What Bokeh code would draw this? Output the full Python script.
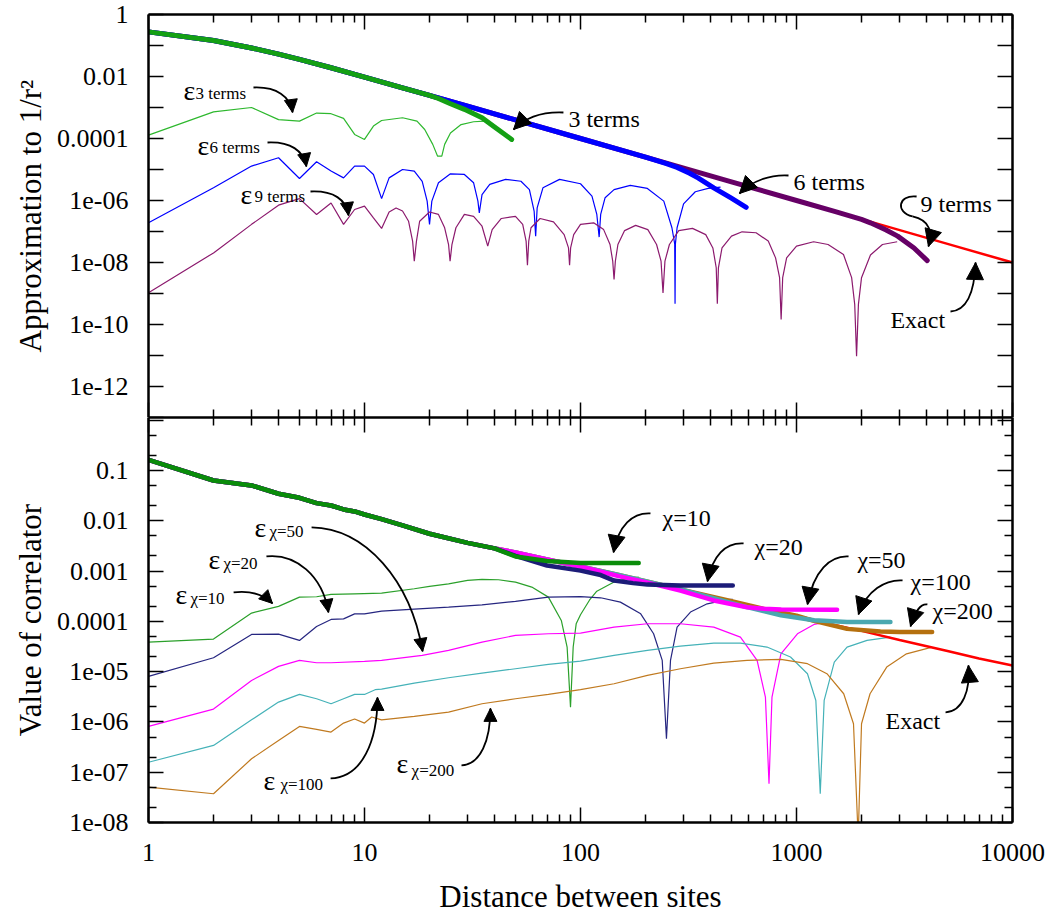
from bokeh.plotting import figure
from bokeh.models import LogAxis, FixedTicker, Range1d, Arrow, NormalHead
from bokeh.layouts import column
from bokeh.embed import file_html
from bokeh.resources import INLINE
from bokeh.core.properties import value

FONT = "Liberation Serif"

# ------------------------------------------------------------------
# DATA
# ------------------------------------------------------------------
# ---- top panel: approximations to 1/r^2 ----
top_exact_r = [1, 2, 3, 4, 5, 7, 10, 15, 20, 30, 50, 100, 200, 500, 1000, 2000, 5000, 10000]
top_exact_v = [0.275, 0.1445, 0.0832, 0.0525, 0.0355, 0.0191, 0.00955, 0.00427, 0.00245, 0.0011,
               3.98e-4, 1.0e-4, 2.51e-5, 3.98e-6, 1.0e-6, 2.5e-7, 3.98e-8, 1.0e-8]

terms3_r = [1, 2, 3, 4, 5, 7, 10, 15, 20, 22, 25, 29, 35, 40, 44, 48]
terms3_v = [0.275, 0.1445, 0.0832, 0.0525, 0.0355, 0.0191, 0.00955, 0.00427, 0.00245,
            1.95e-3, 1.32e-3, 8.71e-4, 4.68e-4, 2.34e-4, 1.45e-4, 9.33e-5]

terms6_r = [1, 2, 3, 4, 5, 7, 10, 15, 20, 30, 50, 100, 150, 200, 250, 280, 320, 350, 414, 495, 585]
terms6_v = [0.275, 0.1445, 0.0832, 0.0525, 0.0355, 0.0191, 0.00955, 0.00427, 0.00245, 0.0011,
            3.98e-4, 1.0e-4, 4.47e-5, 2.51e-5, 1.55e-5, 1.17e-5, 7.59e-6, 5.37e-6, 2.57e-6,
            1.23e-6, 6.03e-7]

terms9_r = [1, 2, 3, 4, 5, 7, 10, 15, 20, 30, 50, 100, 200, 500, 1000, 1500, 2000, 2200, 2600,
            2940, 3500, 4030]
terms9_v = [0.275, 0.1445, 0.0832, 0.0525, 0.0355, 0.0191, 0.00955, 0.00427, 0.00245, 0.0011,
            3.98e-4, 1.0e-4, 2.51e-5, 3.98e-6, 1.0e-6, 4.47e-7, 2.45e-7, 1.91e-7, 1.12e-7,
            7.08e-8, 2.95e-8, 1.15e-8]

eps3_r = [1, 2, 3, 4, 5, 6, 7, 8, 9, 10, 11, 12, 15, 17.5, 19, 20.7, 21.8, 22.8, 23.5, 25, 28, 32, 36]
eps3_v = [1.29e-4, 7.24e-4, 1.0e-3, 4.07e-4, 3.63e-4, 6.61e-4, 6.31e-4, 4.47e-4, 1.35e-4, 9.33e-5,
          2.51e-4, 3.80e-4, 4.68e-4, 3.63e-4, 1.95e-4, 6.46e-5, 2.69e-5, 2.69e-5, 6.46e-5,
          1.51e-4, 2.82e-4, 3.47e-4, 3.63e-4]

eps6_r = [1, 2, 3, 4, 5, 6, 7, 8, 9, 10,
          11, 12, 13, 15, 17, 18.5, 19.5, 20, 20.5, 22,
          25, 29, 32, 33.5, 34, 35, 38, 45, 53, 58,
          61, 62, 63, 67, 80, 100, 113, 119, 122, 124,
          130, 143, 170, 204, 243, 265, 273, 274, 275, 280,
          300, 340, 390, 445]
eps6_v = [1.91e-7, 2.57e-6, 1.29e-5, 2.40e-5, 5.13e-6, 1.78e-5, 8.91e-6, 5.37e-6, 1.29e-5, 1.29e-5,
          6.92e-6, 1.15e-6, 5.37e-6, 1.0e-5, 8.91e-6, 4.17e-6, 9.55e-7, 1.70e-7, 9.55e-7, 3.72e-6,
          7.24e-6, 6.92e-6, 3.72e-6, 9.55e-7, 3.98e-7, 1.55e-6, 3.31e-6, 4.79e-6, 4.17e-6, 2.24e-6,
          4.57e-7, 7.08e-8, 5.75e-7, 2.57e-6, 4.79e-6, 3.47e-6, 1.38e-6, 3.55e-7, 6.61e-8, 3.55e-7,
          1.23e-6, 2.24e-6, 3.09e-6, 2.45e-6, 9.55e-7, 1.32e-7, 3.98e-8, 4.68e-10, 3.98e-8, 1.32e-7,
          7.76e-7, 1.91e-6, 2.45e-6, 2.69e-6]

eps9_r = [1, 2, 3, 4, 5, 6, 7, 8, 9, 10,
          11, 12, 13, 14, 15, 16, 16.7, 17, 17.4, 18,
          20, 22, 23.5, 24.5, 24.9, 25.4, 26.5, 29, 32, 35,
          37.2, 39, 43, 50, 54, 56, 56.8, 57.6, 59, 65,
          75, 84, 88, 89, 90, 93, 100, 115, 128, 137,
          141, 143, 145, 149, 160, 180, 205, 225, 236, 241,
          246, 258, 285, 330, 380, 410, 425, 430, 435, 452,
          500, 560, 650, 740, 800, 835, 849, 863, 900, 1000,
          1200, 1400, 1650, 1800, 1860, 1897, 1935, 2000, 2200, 2500,
          2925]
eps9_v = [1.05e-9, 2.04e-8, 1.70e-7, 7.08e-7, 1.15e-6, 3.55e-7, 8.32e-7, 1.70e-7, 5.13e-7, 6.61e-7,
          2.75e-7, 1.26e-7, 4.27e-7, 5.75e-7, 4.57e-7, 2.14e-7, 4.90e-8, 1.10e-8, 4.90e-8, 2.14e-7,
          4.27e-7, 3.55e-7, 1.32e-7, 3.80e-8, 1.10e-8, 3.80e-8, 1.32e-7, 3.55e-7, 3.09e-7, 1.48e-7,
          3.39e-8, 1.15e-7, 2.63e-7, 3.09e-7, 1.70e-7, 4.90e-8, 8.13e-9, 4.90e-8, 1.32e-7, 2.63e-7,
          2.04e-7, 7.94e-8, 2.95e-8, 8.13e-9, 2.95e-8, 7.94e-8, 1.70e-7, 1.91e-7, 1.15e-7, 3.80e-8,
          1.10e-8, 2.82e-9, 1.10e-8, 3.80e-8, 1.07e-7, 1.58e-7, 1.15e-7, 3.80e-8, 1.10e-8, 1.05e-9,
          1.10e-8, 3.80e-8, 1.07e-7, 1.26e-7, 7.94e-8, 2.95e-8, 6.76e-9, 4.68e-10, 6.76e-9, 2.95e-8,
          7.08e-8, 9.77e-8, 9.12e-8, 4.90e-8, 1.41e-8, 3.24e-9, 1.45e-10, 3.24e-9, 1.41e-8, 3.39e-8,
          4.68e-8, 3.80e-8, 1.82e-8, 3.24e-9, 4.47e-10, 9.55e-12, 4.47e-10, 3.24e-9, 1.74e-8, 3.80e-8,
          4.68e-8]

# ---- bottom panel: correlator ----
corr_exact_r = [1, 2, 3, 4, 5, 6, 7, 8, 9, 10, 12, 15, 20, 30, 40, 50, 70, 100, 150, 200, 300,
                500, 700, 1000, 1500, 2000, 3000, 5000, 7000, 10000]
corr_exact_v = [0.163, 0.0632, 0.0504, 0.0344, 0.0286, 0.0224, 0.0201, 0.0168, 0.0153, 0.0133,
                0.0108, 0.00807, 0.00551, 0.00363, 0.00282, 0.00234, 0.0017, 0.00123, 8.32e-4,
                6.31e-4, 4.17e-4, 2.51e-4, 1.78e-4, 1.29e-4, 8.51e-5, 6.46e-5, 4.27e-5, 2.57e-5,
                1.82e-5, 1.32e-5]

corr_short_r = [1, 2, 3, 4, 5, 6, 7, 8, 9, 10, 12, 15, 20, 30, 40]
corr_short_v = [0.163, 0.0632, 0.0504, 0.0344, 0.0286, 0.0224, 0.0201, 0.0168, 0.0153, 0.0133,
                0.0108, 0.00807, 0.00551, 0.00363, 0.00282]

chi10_r = [50, 70, 100, 140, 186]
chi10_v = [1.95e-3, 1.58e-3, 1.45e-3, 1.44e-3, 1.44e-3]
chi20_r = [50, 70, 100, 124, 143, 175, 204, 290, 507]
chi20_v = [2.0e-3, 1.29e-3, 1.02e-3, 8.32e-4, 6.46e-4, 5.75e-4, 5.37e-4, 5.13e-4, 5.13e-4]
chi50_r = [50, 70, 100, 150, 200, 290, 414, 590, 706, 850, 1541]
chi50_v = [2.34e-3, 1.70e-3, 1.23e-3, 7.94e-4, 6.03e-4, 4.07e-4, 2.60e-4, 1.91e-4, 1.78e-4,
           1.72e-4, 1.70e-4]
chi100_r = [50, 70, 100, 150, 200, 300, 590, 847, 1205, 1714, 2722]
chi100_v = [2.34e-3, 1.70e-3, 1.23e-3, 8.32e-4, 6.31e-4, 4.17e-4, 1.92e-4, 1.32e-4, 1.05e-4,
            9.66e-5, 9.66e-5]
chi200_r = [50, 70, 100, 150, 200, 300, 500, 700, 1000, 1205, 1714, 2445, 3000, 4246]
chi200_v = [2.34e-3, 1.70e-3, 1.23e-3, 8.32e-4, 6.31e-4, 4.17e-4, 2.51e-4, 1.78e-4, 1.29e-4,
            1.02e-4, 7.08e-5, 6.31e-5, 6.17e-5, 6.11e-5]

eps10_r = [1, 2, 3, 4, 5, 6, 7, 9, 12, 17, 20, 24.5, 30, 35, 41.7, 50, 59.5, 71, 81.5, 86.7,
           89.9, 92.5, 95.5, 100, 110, 119, 143, 164, 186]
eps10_v = [3.86e-5, 4.44e-5, 1.46e-4, 1.98e-4, 3.03e-4, 3.08e-4, 3.43e-4, 3.53e-4, 3.64e-4,
           4.44e-4, 4.94e-4, 5.58e-4, 6.50e-4, 6.81e-4, 6.71e-4, 6.03e-4, 4.80e-4, 3.03e-4,
           1.04e-4, 3.08e-5, 1.97e-6, 3.09e-5, 8.91e-5, 1.35e-4, 2.63e-4, 3.98e-4, 6.03e-4,
           7.08e-4, 7.59e-4]

eps20_r = [1, 2, 3, 4, 5, 6, 7, 8, 9, 10, 12, 17, 24.5, 35, 50, 71, 100, 124, 153, 190, 218,
           239, 250, 261, 280, 323, 386, 477, 507]
eps20_v = [8.04e-6, 1.89e-5, 5.50e-5, 5.57e-5, 4.17e-5, 7.92e-5, 1.09e-4, 1.12e-4, 1.41e-4,
           1.41e-4, 1.60e-4, 1.75e-4, 1.92e-4, 2.13e-4, 2.49e-4, 3.03e-4, 3.09e-4, 2.94e-4,
           2.41e-4, 1.41e-4, 5.66e-5, 1.67e-5, 4.63e-7, 1.67e-5, 7.67e-5, 1.53e-4, 2.23e-4,
           2.69e-4, 2.75e-4]

eps50_r = [1, 2, 3, 4, 5, 6, 7, 10, 12, 18.5, 24.5, 35, 50, 71, 100, 143, 204, 290, 414, 550,
           657, 718, 746, 770, 847, 1010, 1205, 1541]
eps50_v = [8.15e-7, 1.80e-6, 6.68e-6, 1.27e-5, 1.67e-5, 1.50e-5, 1.50e-5, 1.60e-5, 1.67e-5,
           2.10e-5, 2.64e-5, 3.86e-5, 5.25e-5, 5.66e-5, 5.83e-5, 7.67e-5, 8.95e-5, 8.95e-5,
           7.67e-5, 4.86e-5, 1.67e-5, 3.12e-6, 5.90e-8, 3.12e-6, 2.26e-5, 5.66e-5, 8.69e-5,
           1.04e-4]

eps100_r = [1, 2, 3, 4, 5, 6, 7, 8, 9, 10, 11.2, 12, 17, 24.5, 35, 50, 71, 100, 143, 204, 290,
            414, 550, 730, 938, 1124, 1229, 1288, 1343, 1496, 1714, 2121, 2722]
eps100_v = [1.58e-7, 3.41e-7, 1.10e-6, 2.48e-6, 3.52e-6, 2.89e-6, 2.30e-6, 2.89e-6, 3.52e-6,
            3.52e-6, 4.37e-6, 4.50e-6, 5.92e-6, 7.55e-6, 9.35e-6, 1.14e-5, 1.39e-5, 1.62e-5,
            2.10e-5, 2.64e-5, 3.22e-5, 3.69e-5, 3.69e-5, 3.08e-5, 1.95e-5, 9.08e-6, 2.67e-6,
            3.73e-8, 2.67e-6, 1.55e-5, 3.08e-5, 4.17e-5, 4.86e-5]

eps200_r = [1, 2, 3, 4, 5, 6, 7, 8, 9, 10, 10.8, 12, 17, 24.5, 35, 50, 71, 100, 143, 204, 290,
            414, 590, 847, 1124, 1383, 1654, 1836, 1930, 2000, 2190, 2616, 3230, 4246]
eps200_v = [5.06e-8, 3.73e-8, 1.85e-7, 4.29e-7, 8.15e-7, 7.08e-7, 6.28e-7, 9.48e-7, 1.14e-6,
            9.48e-7, 1.25e-6, 1.10e-6, 1.29e-6, 1.57e-6, 2.30e-6, 2.89e-6, 3.52e-6, 4.37e-6,
            5.74e-6, 8.41e-6, 1.14e-5, 1.48e-5, 1.67e-5, 1.75e-5, 1.44e-5, 9.08e-6, 3.63e-6,
            9.20e-7, 5.0e-9, 9.20e-7, 3.63e-6, 1.23e-5, 2.26e-5, 3.08e-5]

# ---- tick values ----
x_ticks = [1.0, 10.0, 100.0, 1000.0, 10000.0]
top_y_exps = list(range(-13, 1))
bot_y_exps = list(range(-8, 1))

# ------------------------------------------------------------------
# STYLE / LAYOUT
# ------------------------------------------------------------------
X_MINOR = [m * d for d in (1.0, 10.0, 100.0, 1000.0) for m in range(2, 10)]
TOP_TICKS = [float("1e%d" % k) for k in top_y_exps]
TOP_LABELS = {t: ("%g" % t if k % 2 == 0 else "") for t, k in zip(TOP_TICKS, top_y_exps)}
BOT_TICKS = [float("1e%d" % k) for k in bot_y_exps]
BOT_LABELS = {t: ("%g" % t if k < 0 else "") for t, k in zip(BOT_TICKS, bot_y_exps)}
BOT_MINOR = [m * float("1e%d" % k) for k in bot_y_exps[:-1] for m in (2, 5)]
X_LABELS = {t: "%g" % t for t in x_ticks}


def setup_axis(ax, ticks, minor, labels=None, title=None, standoff=14, title_standoff=8):
    ax.ticker = FixedTicker(ticks=ticks, minor_ticks=minor)
    ax.axis_line_width = 2.5
    ax.axis_line_color = "black"
    ax.major_tick_in = 15
    ax.major_tick_out = 0
    ax.minor_tick_in = 8
    ax.minor_tick_out = 0
    ax.major_tick_line_width = 1.5
    ax.minor_tick_line_width = 1.5
    ax.major_tick_line_color = "black"
    ax.minor_tick_line_color = "black"
    if labels is None:
        ax.major_label_text_font_size = "0px"
        ax.major_label_standoff = 0
        ax.major_label_overrides = {t: "" for t in ticks}
    else:
        ax.major_label_overrides = labels
        ax.major_label_text_font = FONT
        ax.major_label_text_font_size = "26px"
        ax.major_label_text_color = "black"
        ax.major_label_standoff = standoff
    if title:
        ax.axis_label = title
        ax.axis_label_text_font = FONT
        ax.axis_label_text_font_size = "31px"
        ax.axis_label_text_font_style = "normal"
        ax.axis_label_text_color = "black"
        ax.axis_label_standoff = title_standoff


def make_fig(yr, frame_h, btop, bbot):
    p = figure(x_axis_type="log", y_axis_type="log",
               x_range=Range1d(1, 10000), y_range=Range1d(*yr),
               frame_width=864, frame_height=frame_h,
               min_border_left=148, min_border_right=38,
               min_border_top=btop, min_border_bottom=bbot,
               output_backend="svg", toolbar_location=None,
               background_fill_color="white", border_fill_color="white",
               outline_line_color=None)
    p.xgrid.visible = False
    p.ygrid.visible = False
    return p


def add_texts(p, items, size):
    for lx, ly, s in items:
        p.text(x=[10 ** lx], y=[10 ** ly], text=[s], text_font=value(FONT),
               text_font_size=size, text_baseline="alphabetic", text_align="left",
               text_color="black")


def add_arrows(p, arrows, head):
    for segs in arrows:
        for (x0, y0, cx0, cy0, cx1, cy1, x1, y1) in segs:
            p.bezier(x0=[10 ** x0], y0=[10 ** y0], x1=[10 ** x1], y1=[10 ** y1],
                     cx0=[10 ** cx0], cy0=[10 ** cy0], cx1=[10 ** cx1], cy1=[10 ** cy1],
                     line_color="black", line_width=1.8)
        last = segs[-1]
        p.add_layout(Arrow(end=NormalHead(size=head, fill_color="black", line_color="black",
                                          line_width=1),
                           x_start=10 ** last[4], y_start=10 ** last[5],
                           x_end=10 ** last[6], y_end=10 ** last[7], line_alpha=0))


# ---------------- top figure ----------------
pt = make_fig((1e-13, 1.0), 403, 14, 0)
setup_axis(pt.xaxis[0], x_ticks, X_MINOR)
setup_axis(pt.yaxis[0], TOP_TICKS, [], TOP_LABELS, "Approximation to 1/r\u00b2", 20, 6)
ax = LogAxis(); setup_axis(ax, x_ticks, X_MINOR); pt.add_layout(ax, "above")
ax = LogAxis(); setup_axis(ax, TOP_TICKS, []); pt.add_layout(ax, "right")

pt.line(eps3_r, eps3_v, line_color="#2eb82e", line_width=1.2)
pt.line(eps6_r, eps6_v, line_color="#0000ff", line_width=1.2)
pt.line(eps9_r, eps9_v, line_color="#8c1a6e", line_width=1.2)
pt.line(top_exact_r, top_exact_v, line_color="#ff0000", line_width=2.5)
pt.line(terms9_r, terms9_v, line_color="#660066", line_width=5, line_cap="round", line_join="round")
pt.line(terms6_r, terms6_v, line_color="#0000ff", line_width=5, line_cap="round", line_join="round")
pt.line(terms3_r, terms3_v, line_color="#14a014", line_width=5, line_cap="round", line_join="round")

add_texts(pt, [(0.162, -2.452, "\u03b5"), (0.227, -4.226, "\u03b5"), (0.426, -5.806, "\u03b5")], "28px")
add_texts(pt, [(0.218, -2.548, "3 terms"), (0.282, -4.29, "6 terms"), (0.491, -5.871, "9 terms")], "17px")
add_texts(pt, [(1.944, -3.387, "3 terms"), (2.986, -5.419, "6 terms"), (3.574, -6.129, "9 terms"),
               (3.435, -9.839, "Exact")], "24px")
add_arrows(pt, [
    [(0.486, -2.355, 0.593, -2.323, 0.657, -2.645, 0.667, -3.161)],
    [(0.551, -4.129, 0.657, -4.097, 0.718, -4.387, 0.731, -4.903)],
    [(0.75, -5.71, 0.856, -5.677, 0.917, -5.968, 0.926, -6.484)],
], 13)
add_arrows(pt, [
    [(1.921, -3.161, 1.815, -3.129, 1.745, -3.323, 1.69, -3.71)],
    [(2.963, -5.194, 2.88, -5.161, 2.796, -5.355, 2.736, -5.774)],
    [(3.556, -5.871, 3.468, -5.806, 3.458, -6.387, 3.537, -6.516),
     (3.537, -6.516, 3.62, -6.645, 3.63, -7.032, 3.611, -7.484)],
    [(3.713, -9.581, 3.787, -9.548, 3.824, -8.968, 3.829, -8.0)],
], 17)

# ---------------- bottom figure ----------------
pb = make_fig((1e-8, 1.13), 405, 0, 92)
setup_axis(pb.xaxis[0], x_ticks, X_MINOR, X_LABELS, "Distance between sites", 21, 15)
setup_axis(pb.yaxis[0], BOT_TICKS, BOT_MINOR, BOT_LABELS, "Value of correlator", 20, 6)
ax = LogAxis(); setup_axis(ax, x_ticks, X_MINOR); pb.add_layout(ax, "above")
ax = LogAxis(); setup_axis(ax, BOT_TICKS, BOT_MINOR); pb.add_layout(ax, "right")

pb.line(eps10_r, eps10_v, line_color="#2ba02b", line_width=1.2)
pb.line(eps20_r, eps20_v, line_color="#262680", line_width=1.2)
pb.line(eps50_r, eps50_v, line_color="#ff00ff", line_width=1.2)
pb.line(eps100_r, eps100_v, line_color="#45b2b8", line_width=1.2)
pb.line(eps200_r, eps200_v, line_color="#c07a20", line_width=1.2)
pb.line(corr_exact_r, corr_exact_v, line_color="#ff0000", line_width=2.5)
thick = dict(line_width=4.5, line_cap="round", line_join="round")
pb.line(corr_short_r + chi200_r, corr_short_v + chi200_v, line_color="#b5700e", **thick)
pb.line(corr_short_r + chi100_r, corr_short_v + chi100_v, line_color="#4aa8b0", **thick)
pb.line(corr_short_r + chi50_r, corr_short_v + chi50_v, line_color="#ff00ff", **thick)
pb.line(corr_short_r + chi20_r, corr_short_v + chi20_v, line_color="#1c1c78", **thick)
pb.line(corr_short_r + chi10_r, corr_short_v + chi10_v, line_color="#0a8c0a", **thick)

add_texts(pb, [(0.125, -3.465, "\u03b5"), (0.278, -2.769, "\u03b5"), (0.491, -2.133, "\u03b5"),
               (0.532, -7.163, "\u03b5"), (1.148, -6.825, "\u03b5")], "28px")
add_texts(pb, [(0.194, -3.545, "\u03c7=10"), (0.347, -2.849, "\u03c7=20"), (0.56, -2.213, "\u03c7=50"),
               (0.611, -7.243, "\u03c7=100"), (1.218, -6.964, "\u03c7=200")], "17px")
add_texts(pb, [(2.38, -1.954, "\u03c7=10"), (2.806, -2.531, "\u03c7=20"), (3.282, -2.789, "\u03c7=50"),
               (3.528, -3.227, "\u03c7=100"), (3.63, -3.803, "\u03c7=200"),
               (3.412, -5.99, "Exact")], "24px")
add_arrows(pb, [
    [(0.394, -3.425, 0.472, -3.386, 0.532, -3.465, 0.574, -3.644)],
    [(0.546, -2.71, 0.681, -2.65, 0.806, -3.087, 0.833, -3.823)],
    [(0.755, -2.133, 1.005, -2.153, 1.213, -3.187, 1.269, -4.598)],
    [(0.843, -7.123, 0.991, -7.103, 1.06, -6.368, 1.06, -5.513)],
    [(1.449, -6.865, 1.537, -6.845, 1.583, -6.368, 1.583, -5.731)],
], 13)
add_arrows(pb, [
    [(2.324, -1.855, 2.241, -1.835, 2.176, -2.093, 2.153, -2.63)],
    [(2.755, -2.451, 2.671, -2.431, 2.611, -2.69, 2.588, -3.207)],
    [(3.241, -2.71, 3.157, -2.69, 3.079, -2.988, 3.051, -3.664)],
    [(3.491, -3.187, 3.412, -3.167, 3.324, -3.386, 3.287, -3.863)],
    [(3.606, -3.664, 3.574, -3.644, 3.551, -3.783, 3.528, -4.101)],
    [(3.69, -5.811, 3.769, -5.791, 3.806, -5.374, 3.796, -4.877)],
], 17)

layout = column(pt, pb, spacing=0)
open("out.html", "w").write(file_html(layout, INLINE))
